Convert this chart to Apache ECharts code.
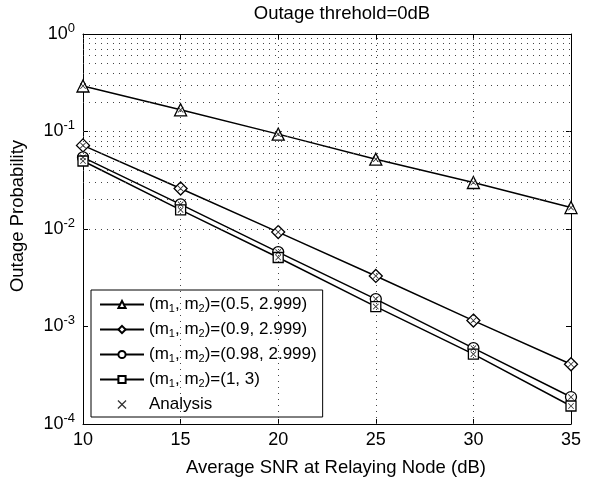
<!DOCTYPE html>
<html>
<head>
<meta charset="utf-8">
<script src="https://cdn.jsdelivr.net/npm/echarts@6/dist/echarts.min.js"></script>
<style>html,body{margin:0;padding:0;background:#fff}#c{width:598px;height:480px}</style>
</head>
<body>
<div id="c"></div>
<script>
var snr = [10, 15, 20, 25, 30, 35];
var seriesNames = ['(m1, m2)=(0.5, 2.999)', '(m1, m2)=(0.9, 2.999)', '(m1, m2)=(0.98, 2.999)', '(m1, m2)=(1, 3)'];
var pA = [0.293, 0.167, 0.094, 0.052, 0.030, 0.0166];
var pB = [0.072, 0.026, 0.0093, 0.0033, 0.00115, 0.00041];
var pC = [0.0543, 0.0179, 0.0058, 0.00191, 0.0006, 0.000189];
var pD = [0.0498, 0.0157, 0.0051, 0.0016, 0.00052, 0.000153];
var minorTicks = [];
for (var e = -4; e < 0; e++) for (var k = 2; k <= 9; k++) minorTicks.push(k * Math.pow(10, e));
var xGrid = [15, 20, 25, 30];
var titleText = 'Outage threhold=0dB';
var xName = 'Average SNR at Relaying Node (dB)';
var yName = 'Outage Probability';

var FONT = 'Liberation Sans, Arial, Helvetica, sans-serif';
var symbols = ['triangle', 'diamond', 'circle', 'rect'];
var symSizes = [12, 13, 11, 10];
var allData = [pA, pB, pC, pD];
var xPath = 'path://M0,1 L1,0 L5,4 L9,0 L10,1 L6,5 L10,9 L9,10 L5,6 L1,10 L0,9 L4,5 Z';

var series = allData.map(function (arr, i) {
  return {
    name: seriesNames[i], type: 'line',
    data: snr.map(function (x, j) { return [x, arr[j]]; }),
    symbol: symbols[i], symbolSize: symSizes[i], showAllSymbol: true,
    lineStyle: { color: '#000', width: 1.5 },
    itemStyle: { color: '#fff', borderColor: '#000', borderWidth: 1.3 },
    z: 3
  };
});
var analysisData = [];
allData.forEach(function (arr) { snr.forEach(function (x, j) { analysisData.push([x, arr[j]]); }); });
series.push({
  name: 'Analysis', type: 'scatter', data: analysisData,
  symbol: xPath, symbolSize: 6,
  itemStyle: { color: '#000' }, z: 4
});
series.push({
  type: 'line', data: [], silent: true, z: 1,
  markLine: {
    silent: true, symbol: 'none', label: { show: false },
    lineStyle: { color: '#444', type: [1, 5], width: 1 },
    data: minorTicks.map(function (v) { return { yAxis: v }; })
      .concat([1e-3, 1e-2, 1e-1].map(function (v) { return { yAxis: v }; }))
      .concat(xGrid.map(function (v) { return { xAxis: v }; }))
  }
});

var legendRich = {
  sub: { fontSize: 11, padding: [9, 0, 0, 0], fontFamily: FONT, color: '#000' }
};
var textStyleBig = { fontFamily: FONT, fontSize: 18.5, fill: '#000' };

var chart = echarts.init(document.getElementById('c'), null, { renderer: 'canvas' });
chart.setOption({
  animation: false,
  backgroundColor: '#fff',
  grid: { left: 83, right: 27, top: 34, bottom: 56 },
  graphic: [
    { type: 'text', x: 342, y: 14, style: Object.assign({ text: titleText, align: 'center', verticalAlign: 'middle' }, textStyleBig) },
    { type: 'text', x: 336, y: 468, style: Object.assign({ text: xName, align: 'center', verticalAlign: 'middle' }, textStyleBig) },
    { type: 'text', x: 18, y: 216, rotation: Math.PI / 2, style: Object.assign({ text: yName, align: 'center', verticalAlign: 'middle' }, textStyleBig) }
  ],
  legend: {
    orient: 'vertical', left: 91, top: 290,
    backgroundColor: '#fff', borderColor: '#000', borderWidth: 1,
    padding: [4, 6, 2, 8], itemGap: 4, itemWidth: 44, itemHeight: 9,
    data: seriesNames.concat(['Analysis']),
    textStyle: { fontFamily: FONT, fontSize: 17, lineHeight: 21, color: '#000', rich: legendRich },
    formatter: function (name) {
      return name.replace('m1', 'm{sub|1}').replace('m2', 'm{sub|2}');
    }
  },
  xAxis: [{
    type: 'value', min: 10, max: 35, interval: 5,
    axisLine: { lineStyle: { color: '#000', width: 1 } },
    axisTick: { inside: true, length: 5, lineStyle: { color: '#000' } },
    axisLabel: { fontFamily: FONT, fontSize: 18, color: '#000', margin: 7 },
    splitLine: { show: false }
  }, {
    type: 'value', min: 10, max: 35, interval: 5, position: 'top',
    axisLine: { lineStyle: { color: '#000', width: 1 } },
    axisTick: { inside: true, length: 5, lineStyle: { color: '#000' } },
    axisLabel: { show: false }, splitLine: { show: false }
  }],
  yAxis: [{
    type: 'log', logBase: 10, min: 1e-4, max: 1,
    axisLine: { lineStyle: { color: '#000', width: 1 } },
    axisTick: { inside: true, length: 5, lineStyle: { color: '#000' } },
    axisLabel: {
      fontFamily: FONT, fontSize: 18, color: '#000', margin: 8,
      formatter: function (v) { return '10{sup|' + Math.round(Math.log10(v)) + '}'; },
      rich: { sup: { fontSize: 13, fontFamily: FONT, color: '#000', padding: [0, 0, 12, 0] } }
    },
    splitLine: { show: false }
  }, {
    type: 'log', logBase: 10, min: 1e-4, max: 1, position: 'right',
    axisLine: { lineStyle: { color: '#000', width: 1 } },
    axisTick: { inside: true, length: 5, lineStyle: { color: '#000' } },
    axisLabel: { show: false }, splitLine: { show: false }
  }],
  series: series
});
</script>
</body>
</html>
